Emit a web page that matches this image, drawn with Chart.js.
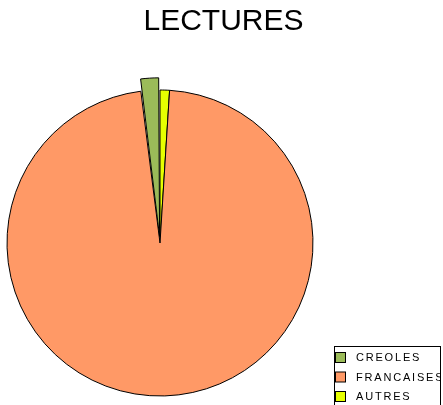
<!DOCTYPE html>
<html lang="fr">
<head>
    <meta charset="UTF-8">
    <title>Lectures</title>
    <script src="https://cdn.jsdelivr.net/npm/chart.js"></script>
    <style>
        body { margin: 0; background: #fff; }
        canvas { display: block; }
    </style>
</head>
<body>
    <canvas id="myChart" width="443" height="405"></canvas>

    <script>
        // valeurs (en %)
        var categories = ['CREOLES', 'FRANCAISES', 'AUTRES'];
        var values = [2, 97, 1];
        var colors = ['#9bbb59', '#ff9966', '#e6ff00'];
        var offsets = [26, 0, 0];

        // le camembert tourne dans l'autre sens, donc on inverse pour le dessin
        var drawLabels = categories.slice().reverse();
        var drawValues = values.slice().reverse();
        var drawColors = colors.slice().reverse();
        var drawOffsets = offsets.slice().reverse();

        // le titre reste centre sur toute la largeur
        var wideTitle = {
            id: 'wideTitle',
            afterLayout: function (chart) {
                var t = chart.titleBlock;
                if (t) {
                    t.left = 0;
                    t.right = 447;
                    t.width = 447;
                }
            }
        };

        // legende encadree en bas a droite
        var boxLegend = {
            id: 'boxLegend',
            afterDraw: function (chart) {
                var ctx = chart.ctx;
                ctx.save();
                ctx.fillStyle = '#fff';
                ctx.fillRect(334.5, 346.5, 106, 60);
                ctx.strokeStyle = '#000';
                ctx.lineWidth = 1;
                ctx.strokeRect(334.5, 346.5, 106, 60);
                ctx.beginPath();
                ctx.rect(334, 346, 107, 60);
                ctx.clip();
                ctx.font = '11px "Liberation Sans", Arial, sans-serif';
                ctx.letterSpacing = '1.8px';
                ctx.textBaseline = 'middle';
                for (var i = 0; i < categories.length; i++) {
                    var y = 352 + i * 19.5;
                    ctx.fillStyle = colors[i];
                    ctx.fillRect(335.5, y + 0.5, 10, 10);
                    ctx.strokeStyle = '#000';
                    ctx.strokeRect(335.5, y + 0.5, 10, 10);
                    ctx.fillStyle = '#000';
                    ctx.fillText(categories[i], 356, y + 6);
                }
                ctx.restore();
            }
        };

        var ctx = document.getElementById('myChart').getContext('2d');
        var myChart = new Chart(ctx, {
            type: 'pie',
            data: {
                labels: drawLabels,
                datasets: [{
                    data: drawValues,
                    backgroundColor: drawColors,
                    borderColor: '#000',
                    borderWidth: 1,
                    offset: drawOffsets
                }]
            },
            options: {
                responsive: false,
                animation: false,
                radius: 153,
                rotation: 0,
                layout: {
                    padding: { left: 0, right: 123, top: 0, bottom: 3 }
                },
                plugins: {
                    legend: { display: false },
                    tooltip: { enabled: false },
                    title: {
                        display: true,
                        text: 'LECTURES',
                        color: '#000',
                        font: { family: '"Liberation Sans", Arial, sans-serif', size: 30, weight: 'normal' },
                        padding: { top: 4, bottom: 44 }
                    }
                }
            },
            plugins: [wideTitle, boxLegend]
        });
    </script>
</body>
</html>
